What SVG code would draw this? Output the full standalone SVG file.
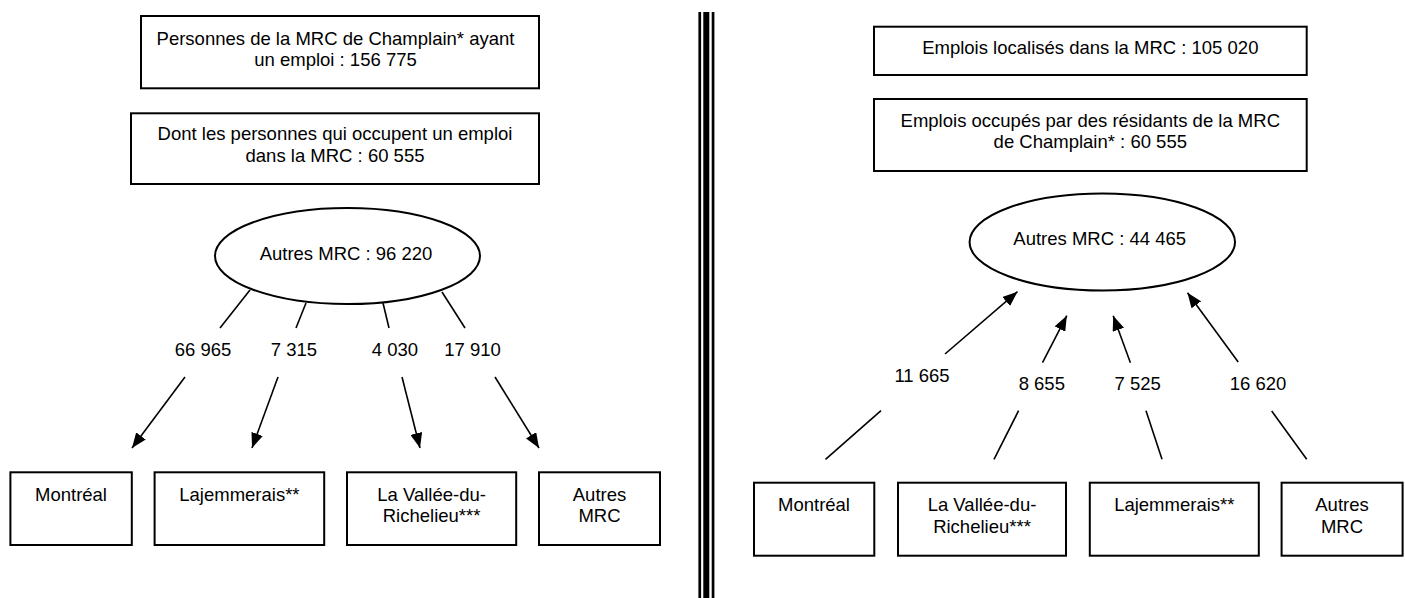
<svg xmlns="http://www.w3.org/2000/svg" width="1405" height="598" viewBox="0 0 1405 598">
<style>
.box{fill:#fff;stroke:#000;stroke-width:2}
.ell{fill:#fff;stroke:#000;stroke-width:2}
.t{font-family:"Liberation Sans",Arial,sans-serif;font-size:18.5px;fill:#000;text-anchor:middle}
.c{stroke:#000;stroke-width:1.6;fill:none}
.a{stroke:#000;stroke-width:1.6;fill:none;marker-end:url(#ah)}
</style>
<defs>
<marker id="ah" viewBox="0 0 15 12" refX="15" refY="6" markerWidth="15" markerHeight="12" markerUnits="userSpaceOnUse" orient="auto">
<path d="M0,0 L15,6 L0,12 z" fill="#000"/>
</marker>
</defs>
<rect width="1405" height="598" fill="#fff"/>
<g id="divider">
<rect x="698.4" y="12" width="2.7" height="586" fill="#000"/>
<rect x="703.3" y="12" width="6" height="586" fill="#000"/>
<rect x="711.7" y="12" width="2.7" height="586" fill="#000"/>
</g>
<g id="connectors">
<line class="c" x1="250" y1="290" x2="220" y2="328"/>
<line class="a" x1="185" y1="377" x2="132" y2="448"/>
<line class="c" x1="306" y1="303" x2="296" y2="328"/>
<line class="a" x1="278" y1="377" x2="252" y2="448"/>
<line class="c" x1="383" y1="303" x2="389" y2="328"/>
<line class="a" x1="402" y1="377" x2="420" y2="448"/>
<line class="c" x1="442" y1="292" x2="465" y2="328"/>
<line class="a" x1="495" y1="377" x2="539" y2="448"/>
<line class="a" x1="945" y1="354" x2="1017.5" y2="291.7"/>
<line class="c" x1="881" y1="410.7" x2="825.5" y2="459.3"/>
<line class="a" x1="1042.5" y1="362.7" x2="1066.8" y2="315.7"/>
<line class="c" x1="1018.6" y1="410.7" x2="994" y2="459.3"/>
<line class="a" x1="1130.4" y1="362.7" x2="1113.2" y2="315.7"/>
<line class="c" x1="1146" y1="410.7" x2="1162" y2="459.3"/>
<line class="a" x1="1238.2" y1="362" x2="1187.5" y2="292.7"/>
<line class="c" x1="1271.7" y1="411" x2="1306.7" y2="459.3"/>
</g>
<g id="labels">
<text class="t" x="203" y="356">66 965</text>
<text class="t" x="294" y="356">7 315</text>
<text class="t" x="395" y="356">4 030</text>
<text class="t" x="472.5" y="356">17 910</text>
<text class="t" x="922" y="381.7">11 665</text>
<text class="t" x="1041.8" y="390">8 655</text>
<text class="t" x="1137.7" y="390">7 525</text>
<text class="t" x="1258" y="390">16 620</text>
</g>
<g id="l-top1">
<rect class="box" x="141" y="16" width="398" height="72.3"/>
<text class="t" x="335.5" y="45">Personnes de la MRC de Champlain* ayant</text>
<text class="t" x="335.5" y="65.5">un emploi : 156 775</text>
</g>
<g id="l-top2">
<rect class="box" x="131" y="113.3" width="408" height="70.7"/>
<text class="t" x="335" y="140">Dont les personnes qui occupent un emploi</text>
<text class="t" x="335" y="161.5">dans la MRC : 60 555</text>
</g>
<g id="l-ellipse">
<ellipse class="ell" cx="347.5" cy="256" rx="132.5" ry="48"/>
<text class="t" x="346" y="260">Autres MRC : 96 220</text>
</g>
<g id="l-montreal">
<rect class="box" x="10.4" y="472.3" width="121.4" height="72.7"/>
<text class="t" x="71" y="501">Montréal</text>
</g>
<g id="l-lajemmerais">
<rect class="box" x="154.6" y="472.3" width="169.6" height="72.7"/>
<text class="t" x="239.4" y="501">Lajemmerais**</text>
</g>
<g id="l-vallee">
<rect class="box" x="347" y="472.3" width="169.2" height="72.7"/>
<text class="t" x="431.6" y="501">La Vallée-du-</text>
<text class="t" x="431.6" y="522">Richelieu***</text>
</g>
<g id="l-autres">
<rect class="box" x="539" y="472.3" width="121" height="72.7"/>
<text class="t" x="599.5" y="501">Autres</text>
<text class="t" x="599.5" y="522">MRC</text>
</g>
<g id="r-top1">
<rect class="box" x="874" y="26.7" width="432.7" height="48.3"/>
<text class="t" x="1090.3" y="54">Emplois localisés dans la MRC : 105 020</text>
</g>
<g id="r-top2">
<rect class="box" x="874" y="99" width="432.7" height="72"/>
<text class="t" x="1090.3" y="126.7">Emplois occupés par des résidants de la MRC</text>
<text class="t" x="1090.3" y="148.3">de Champlain* : 60 555</text>
</g>
<g id="r-ellipse">
<ellipse class="ell" cx="1102.3" cy="242" rx="132.7" ry="48.5"/>
<text class="t" x="1099.7" y="245">Autres MRC : 44 465</text>
</g>
<g id="r-montreal">
<rect class="box" x="754" y="482.7" width="120.3" height="73"/>
<text class="t" x="814" y="511">Montréal</text>
</g>
<g id="r-vallee">
<rect class="box" x="898" y="482.7" width="168" height="73"/>
<text class="t" x="982" y="511">La Vallée-du-</text>
<text class="t" x="982" y="533">Richelieu***</text>
</g>
<g id="r-lajemmerais">
<rect class="box" x="1089.8" y="482.7" width="169" height="73"/>
<text class="t" x="1174.3" y="511">Lajemmerais**</text>
</g>
<g id="r-autres">
<rect class="box" x="1281.6" y="482.7" width="121" height="73"/>
<text class="t" x="1342" y="511">Autres</text>
<text class="t" x="1342" y="533">MRC</text>
</g>
</svg>
